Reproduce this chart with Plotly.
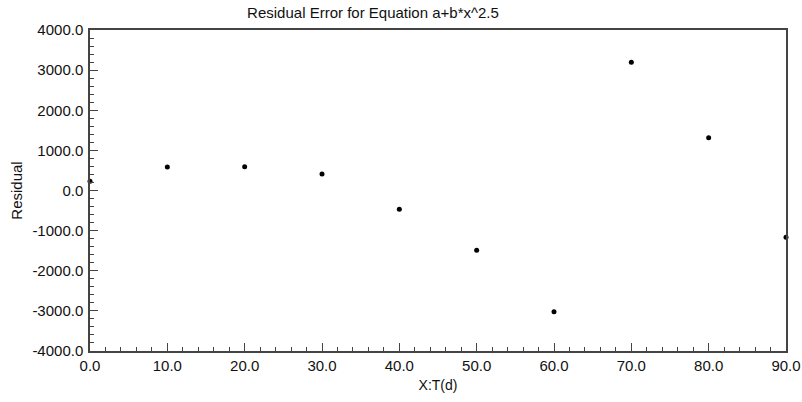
import plotly.graph_objects as go

x_vals = [0, 10, 20, 30, 40, 50, 60, 70, 80, 90]
residuals = [230, 586, 594, 411, -469, -1491, -3020, 3197, 1317, -1167]

x_ticks = [0, 10, 20, 30, 40, 50, 60, 70, 80, 90]
y_ticks = [-4000, -3000, -2000, -1000, 0, 1000, 2000, 3000, 4000]

title_text = "Residual Error for Equation a+b*x^2.5"
x_title = "X:T(d)"
y_title = "Residual"

fig = go.Figure()
fig.add_trace(go.Scatter(
    x=x_vals, y=residuals, mode="markers",
    marker=dict(color="black", size=5),
    cliponaxis=False, showlegend=False,
))

font = dict(family="Liberation Sans, Arial, sans-serif", size=15, color="#111")
font_small = dict(family="Liberation Sans, Arial, sans-serif", size=14, color="#111")

fig.update_layout(
    width=802, height=402,
    margin=dict(l=90, r=16, t=30, b=51),
    paper_bgcolor="white", plot_bgcolor="white",
    font=font,
    title=dict(text=title_text, x=373 / 802, xref="container", xanchor="center",
               y=1 - 13 / 402, yref="container", yanchor="middle", font=font),
)

fig.update_xaxes(
    range=[0, 90], tickvals=x_ticks, ticktext=[f"{v:.1f}" for v in x_ticks],
    automargin=False,
    showline=True, linecolor="#444", linewidth=1.5, mirror=True,
    ticks="inside", ticklen=8, tickcolor="#444", tickwidth=1,
    minor=dict(dtick=2, tick0=0, ticks="inside", ticklen=4, tickcolor="#444"),
    showgrid=False, zeroline=False,
    title=dict(text=x_title, standoff=7, font=font_small),
    tickfont=font,
)
fig.update_yaxes(
    range=[-4000, 4000], tickvals=y_ticks, ticktext=[f"{v:.1f}" for v in y_ticks],
    automargin=False, ticklabelstandoff=2,
    showline=True, linecolor="#444", linewidth=1.5, mirror=True,
    ticks="inside", ticklen=8, tickcolor="#444", tickwidth=1,
    minor=dict(dtick=200, tick0=0, ticks="inside", ticklen=4, tickcolor="#444"),
    showgrid=False, zeroline=False,
    title=dict(text=y_title, standoff=6, font=font),
    tickfont=font,
)

fig.write_html("out.html")
